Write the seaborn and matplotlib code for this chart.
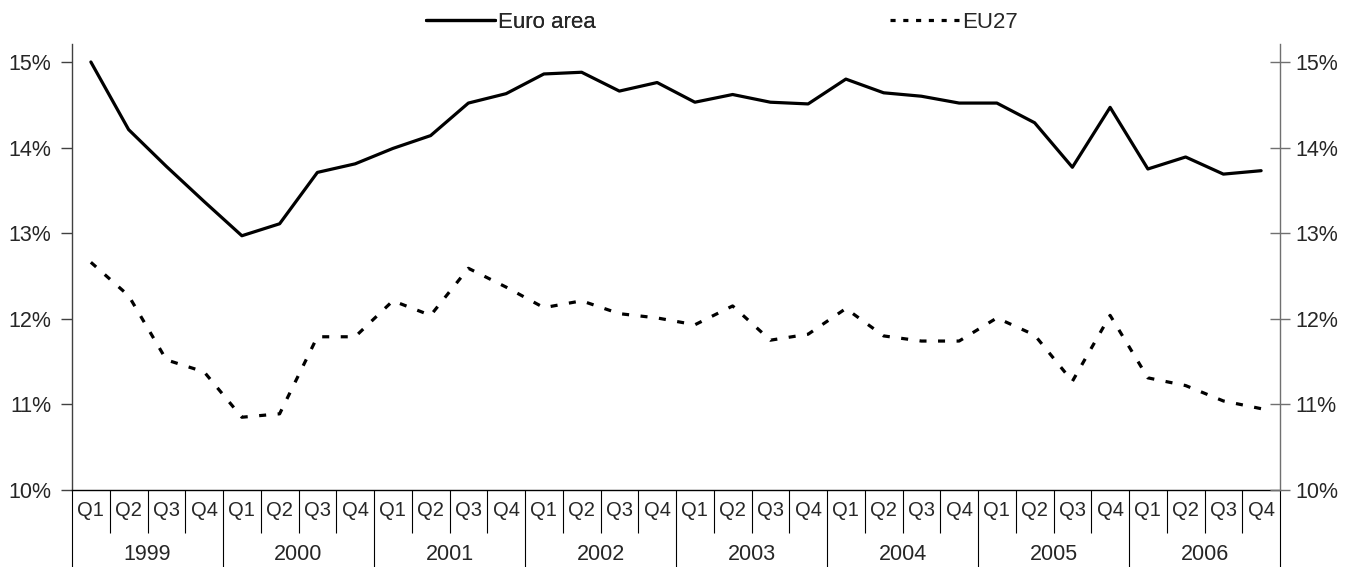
import matplotlib
matplotlib.use("Agg")
import matplotlib.pyplot as plt
import matplotlib.transforms as mtransforms
from matplotlib.lines import Line2D
import numpy as np
import pandas as pd
import seaborn as sns

years = ["1999", "2000", "2001", "2002", "2003", "2004", "2005", "2006"]
quarters = ["Q1", "Q2", "Q3", "Q4"]

euro_area = [15.00, 14.21, 13.78, 13.37, 12.97, 13.11, 13.71, 13.81,
             13.99, 14.14, 14.52, 14.63, 14.86, 14.88, 14.66, 14.76,
             14.53, 14.62, 14.53, 14.51, 14.80, 14.64, 14.60, 14.52,
             14.52, 14.29, 13.77, 14.47, 13.75, 13.89, 13.69, 13.73]
eu27 = [12.66, 12.27, 11.52, 11.38, 10.85, 10.89, 11.79, 11.79,
        12.21, 12.04, 12.59, 12.37, 12.13, 12.21, 12.06, 12.01,
        11.93, 12.15, 11.75, 11.82, 12.12, 11.80, 11.74, 11.74,
        12.01, 11.81, 11.27, 12.04, 11.31, 11.22, 11.04, 10.95]

series_names = ["Euro area", "EU27"]
y_ticks = [10, 11, 12, 13, 14, 15]

n = len(euro_area)
idx = np.arange(n)
df = pd.DataFrame({
    "t": np.concatenate([idx, idx]),
    "value": euro_area + eu27,
    "series": [series_names[0]] * n + [series_names[1]] * n,
})

sns.set_style("white")
plt.rcParams["font.family"] = ["Liberation Sans", "DejaVu Sans"]
FS = 15.5      # percent ticks and years
FS_Q = 14.5    # quarter labels
FS_LEG = 16

fig = plt.figure(figsize=(13.56, 5.67), dpi=100)
ax = fig.add_axes([72 / 1356, 1 - 490 / 567, (1280 - 72) / 1356, (490 - 44) / 567])

LW = 2.3
dash_eu = (2.2, 3.6)
sns.lineplot(data=df, x="t", y="value", hue="series", style="series",
             palette={"Euro area": "black", "EU27": "black"},
             dashes={"Euro area": "", "EU27": dash_eu},
             linewidth=LW, legend=False, ax=ax)

ymax = 15.21
ax.set_xlim(-0.5, n - 0.5)
ax.set_ylim(10, ymax)
ax.set_xlabel("")
ax.set_ylabel("")

# left y axis
ax.set_yticks(y_ticks)
ax.set_yticklabels([f"{v}%" for v in y_ticks], fontsize=FS)
ax.tick_params(axis="y", direction="out", length=8, width=1, color="#404040", pad=7)
for s in ["top", "right"]:
    ax.spines[s].set_visible(False)
ax.spines["left"].set_color("#404040")
ax.spines["bottom"].set_color("black")
ax.spines["left"].set_linewidth(1)
ax.spines["bottom"].set_linewidth(1)

# quarter labels
ax.set_xticks(idx)
ax.set_xticklabels(quarters * len(years), fontsize=FS_Q)
ax.tick_params(axis="x", length=0, pad=8)

# right y axis
ax2 = ax.twinx()
ax2.set_ylim(10, ymax)
ax2.set_yticks(y_ticks)
ax2.set_yticklabels([f"{v}%" for v in y_ticks], fontsize=FS)
ax2.tick_params(axis="y", direction="inout", length=14, width=1, color="#707070", pad=4)
for s in ["top", "left", "bottom"]:
    ax2.spines[s].set_visible(False)
ax2.spines["right"].set_color("#707070")
ax2.spines["right"].set_linewidth(1)

# category separators below the axis
trans = mtransforms.blended_transform_factory(ax.transData, ax.transAxes)
q_bounds = [i - 0.5 for i in range(n + 1) if i % 4 != 0]
y_bounds = [i - 0.5 for i in range(0, n + 1, 4)]
ax.vlines(q_bounds, -0.096, 0, transform=trans, colors="black", linewidth=0.8, clip_on=False)
ax.vlines(y_bounds, -0.175, 0, transform=trans, colors="black", linewidth=0.8, clip_on=False)
for k, yr in enumerate(years):
    ax.text(4 * k + 1.5, -0.145, yr, transform=trans, ha="center", va="center",
            fontsize=FS, clip_on=False)

# legend entries, placed individually
leg_kw = dict(loc="center left", frameon=False, fontsize=FS_LEG, handlelength=3.1,
              handletextpad=0.15, borderpad=0, borderaxespad=0)
leg1 = fig.legend([Line2D([], [], color="black", linewidth=LW)], [series_names[0]],
                  bbox_to_anchor=(426 / 1356, 0.961), **leg_kw)
fig.add_artist(leg1)
fig.legend([Line2D([], [], color="black", linewidth=LW, linestyle=(0, (1.6, 2.4)))],
           [series_names[1]], bbox_to_anchor=(890 / 1356, 0.961), **leg_kw)

fig.savefig("out.png", dpi=100)
